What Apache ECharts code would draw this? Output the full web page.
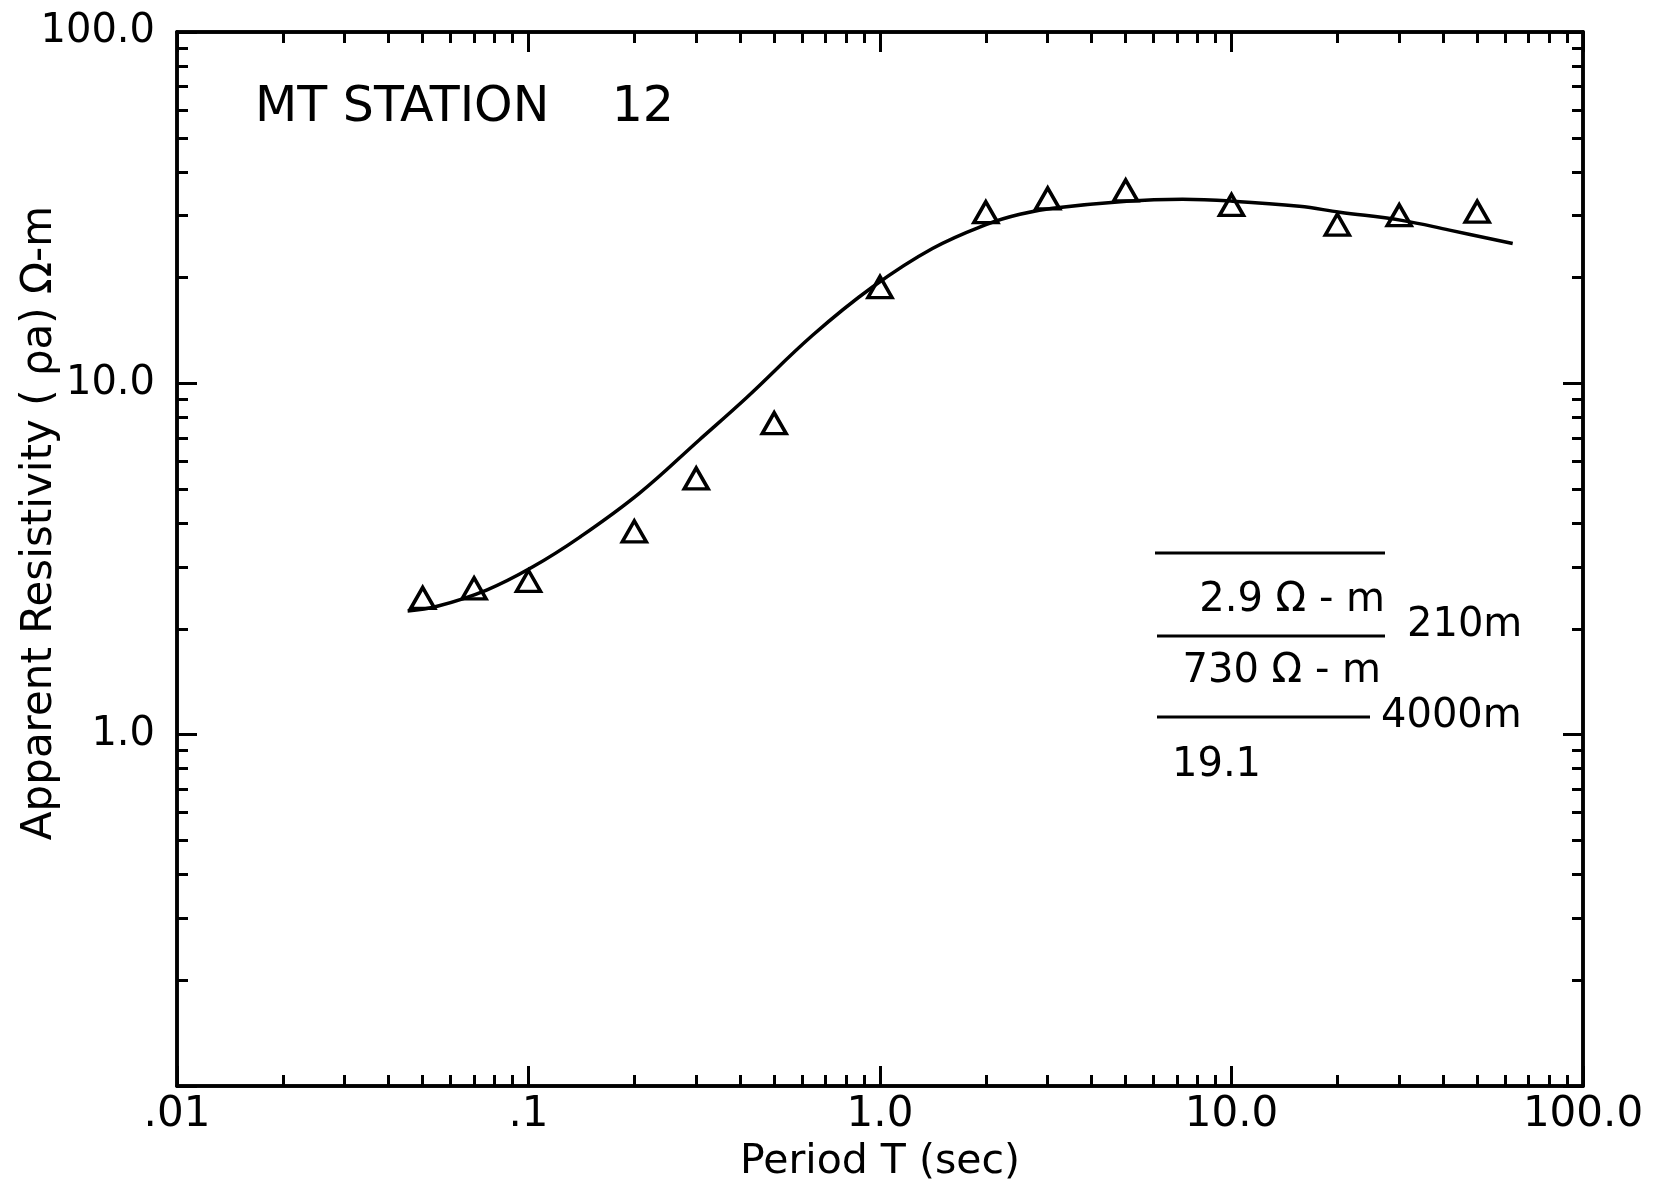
<!DOCTYPE html>
<html>
<head>
<meta charset="utf-8">
<title>MT Station 12</title>
<script src="https://cdn.jsdelivr.net/npm/echarts@6/dist/echarts.min.js"></script>
<style>
  html, body { margin: 0; padding: 0; background: #ffffff; }
  #chart { width: 1657px; height: 1194px; }
</style>
</head>
<body>
<div id="chart"></div>
<script>
// observed apparent resistivity (triangles)
const periodObs = [0.05, 0.07, 0.1, 0.2, 0.3, 0.5, 1.0, 2.0, 3.0, 5.0, 10, 20, 30, 50]
const rhoObs = [2.45, 2.61, 2.74, 3.79, 5.36, 7.7, 18.8, 30.7, 33.6, 35.4, 32.2, 28.3, 30.1, 30.8]

// layered model response (solid curve)
const periodModel = [0.0453, 0.055, 0.076, 0.1026, 0.14, 0.207, 0.306, 0.417, 0.643, 0.952, 1.41, 2.02, 2.5, 3.1, 5.03, 7.26, 10.07, 15.6, 20.3, 30.5, 41.7, 63.1]
const rhoModel = [2.25, 2.32, 2.58, 3.0, 3.65, 4.87, 6.9, 9.1, 13.7, 18.8, 24.2, 28.4, 30.3, 31.5, 33.0, 33.4, 33.0, 31.9, 30.7, 29.1, 27.3, 25.0]

// axis ticks and labels
const xMajorTicks = [0.01, 0.1, 1, 10, 100]
const xTickLabels = ['.01', '.1', '1.0', '10.0', '100.0']
const yMajorTicks = [0.1, 1, 10, 100]
const yLabelTicks = [1, 10, 100]
const yTickLabels = ['1.0', '10.0', '100.0']
const minorSteps = [2, 3, 4, 5, 6, 7, 8, 9]

const FONT = 'DejaVu Sans'
const INK = '#000000'

// minor ticks at 2..9 of each decade
const minorsOf = decades => {
  const out = []
  decades.forEach(d => minorSteps.forEach(s => out.push(+(d * s).toPrecision(6))))
  return out
}
const xMinorTicks = minorsOf(xMajorTicks.slice(0, -1))
const yMinorTicks = minorsOf(yMajorTicks.slice(0, -1))

const labelFor = (ticks, labels) => value => {
  const i = ticks.findIndex(t => Math.abs(Math.log10(t) - Math.log10(value)) < 1e-6)
  return i >= 0 ? labels[i] : ''
}

const gridRect = { left: 177, right: 74, top: 32, bottom: 108, outerBoundsMode: 'none' }

const logAxis = (gridIndex, position, min, max, ticks, tickLen) => ({
  type: 'log',
  logBase: 10,
  gridIndex: gridIndex,
  position: position,
  min: min,
  max: max,
  axisLine: { show: true, onZero: false, lineStyle: { color: INK, width: 3.5 } },
  axisTick: { show: true, inside: true, length: tickLen, customValues: ticks, lineStyle: { color: INK, width: 3 } },
  minorTick: { show: false },
  axisLabel: { show: false },
  splitLine: { show: false }
})

// grid 0 carries the series and decade ticks, grid 1 the minor ticks
const xBottom = logAxis(0, 'bottom', 0.01, 100, xMajorTicks, 20)
xBottom.axisLabel = {
  show: true,
  customValues: xMajorTicks,
  margin: 8,
  color: INK,
  fontFamily: FONT,
  fontSize: 42,
  formatter: labelFor(xMajorTicks, xTickLabels)
}
xBottom.name = 'Period T (sec)'
xBottom.nameLocation = 'middle'
xBottom.nameGap = 56
xBottom.nameMoveOverlap = false
xBottom.nameTextStyle = { color: INK, fontFamily: FONT, fontSize: 41 }

const yLeft = logAxis(0, 'left', 0.1, 100, yMajorTicks, 20)
yLeft.axisLabel = {
  show: true,
  customValues: yLabelTicks,
  margin: 22,
  color: INK,
  fontFamily: FONT,
  fontSize: 40,
  formatter: labelFor(yLabelTicks, yTickLabels)
}
yLeft.name = 'Apparent Resistivity ( ρa) Ω-m'
yLeft.nameLocation = 'middle'
yLeft.nameGap = 116
yLeft.nameRotate = 90
yLeft.nameMoveOverlap = false
yLeft.nameTextStyle = { color: INK, fontFamily: FONT, fontSize: 42, padding: [0, 0, 0, 72] }

const chart = echarts.init(document.getElementById('chart'))

const option = {
  backgroundColor: '#ffffff',
  animation: false,
  title: {
    text: 'MT STATION    12',
    left: 255,
    top: 84,
    padding: 0,
    textStyle: { color: INK, fontFamily: FONT, fontSize: 49, fontWeight: 'normal' }
  },
  grid: [
    Object.assign({}, gridRect),
    Object.assign({}, gridRect)
  ],
  xAxis: [
    xBottom,
    logAxis(0, 'top', 0.01, 100, xMajorTicks, 20),
    logAxis(1, 'bottom', 0.01, 100, xMinorTicks, 11),
    logAxis(1, 'top', 0.01, 100, xMinorTicks, 11)
  ],
  yAxis: [
    yLeft,
    logAxis(0, 'right', 0.1, 100, yMajorTicks, 20),
    logAxis(1, 'left', 0.1, 100, yMinorTicks, 11),
    logAxis(1, 'right', 0.1, 100, yMinorTicks, 11)
  ],
  series: [
    {
      name: 'model',
      type: 'line',
      xAxisIndex: 0,
      yAxisIndex: 0,
      data: periodModel.map((p, i) => [p, rhoModel[i]]),
      smooth: 0.4,
      showSymbol: false,
      lineStyle: { color: INK, width: 3.5 },
      z: 2
    },
    {
      name: 'observed',
      type: 'scatter',
      xAxisIndex: 0,
      yAxisIndex: 0,
      data: periodObs.map((p, i) => [p, rhoObs[i]]),
      symbol: 'triangle',
      symbolSize: [24, 21],
      itemStyle: { color: 'rgba(0,0,0,0)', borderColor: INK, borderWidth: 3.5, opacity: 1 },
      z: 3
    }
  ],
  // layered-earth model annotation
  graphic: [
    { type: 'line', shape: { x1: 1155, y1: 553, x2: 1385, y2: 553 }, style: { stroke: INK, lineWidth: 3 } },
    { type: 'line', shape: { x1: 1157, y1: 636, x2: 1385, y2: 636 }, style: { stroke: INK, lineWidth: 3 } },
    { type: 'line', shape: { x1: 1157, y1: 717, x2: 1370, y2: 717 }, style: { stroke: INK, lineWidth: 3 } },
    { type: 'text', x: 1385, y: 601, style: { text: '2.9 Ω - m', fill: INK, font: '40px "DejaVu Sans"', align: 'right', verticalAlign: 'middle' } },
    { type: 'text', x: 1407, y: 626, style: { text: '210m', fill: INK, font: '40px "DejaVu Sans"', align: 'left', verticalAlign: 'middle' } },
    { type: 'text', x: 1381, y: 672, style: { text: '730 Ω - m', fill: INK, font: '40px "DejaVu Sans"', align: 'right', verticalAlign: 'middle' } },
    { type: 'text', x: 1381, y: 717, style: { text: '4000m', fill: INK, font: '40px "DejaVu Sans"', align: 'left', verticalAlign: 'middle' } },
    { type: 'text', x: 1172, y: 766, style: { text: '19.1', fill: INK, font: '40px "DejaVu Sans"', align: 'left', verticalAlign: 'middle' } }
  ]
}

chart.setOption(option)
</script>
</body>
</html>
